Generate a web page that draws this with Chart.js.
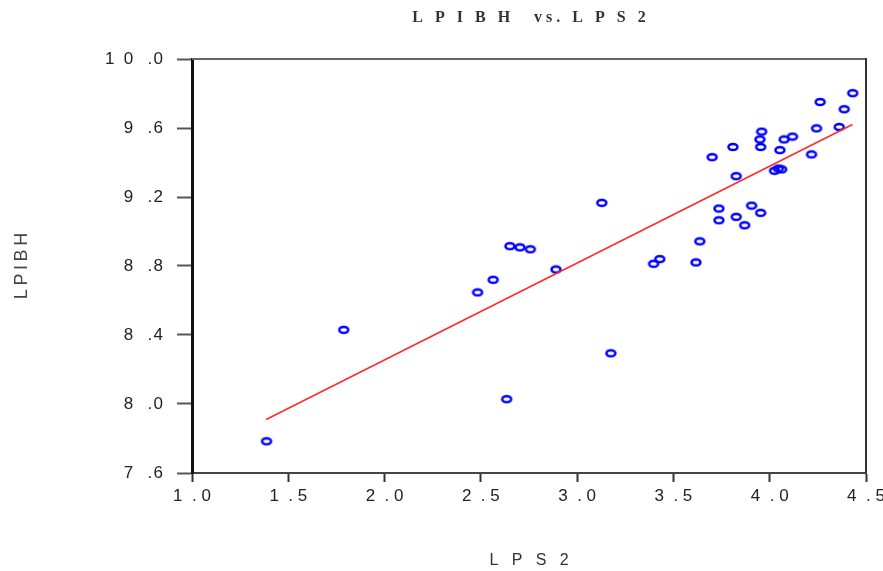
<!DOCTYPE html>
<html>
<head>
<meta charset="utf-8">
<script src="https://cdn.jsdelivr.net/npm/chart.js@4.4.1/dist/chart.umd.min.js"></script>
<style>
  html, body { margin: 0; padding: 0; background: #fff; }
  canvas { display: block; }
</style>
</head>
<body>
<canvas id="scatter" width="883" height="571"></canvas>
<script>
// LPS2 (x) and LPIBH (y)
var lps2 = [1.387, 1.788, 2.483, 2.564, 2.634, 2.651, 2.703, 2.757, 2.89, 3.128,
            3.175, 3.397, 3.429, 3.617, 3.637, 3.701, 3.736, 3.736, 3.809, 3.826,
            3.826, 3.87, 3.906, 3.953, 3.958, 3.949, 3.953, 4.053, 4.025, 4.045,
            4.062, 4.075, 4.118, 4.217, 4.243, 4.262, 4.361, 4.387, 4.431];
var lpibh = [7.784, 8.43, 8.647, 8.72, 8.028, 8.915, 8.908, 8.897, 8.78, 9.166,
             8.294, 8.813, 8.84, 8.821, 8.943, 9.431, 9.133, 9.065, 9.49, 9.321,
             9.085, 9.036, 9.15, 9.108, 9.579, 9.534, 9.49, 9.472, 9.352, 9.365,
             9.36, 9.534, 9.55, 9.447, 9.598, 9.751, 9.606, 9.709, 9.802];

// fitted line end points
var fitX = [1.385, 4.43];
var fitY = [7.91, 9.62];

var xTicks = [1.0, 1.5, 2.0, 2.5, 3.0, 3.5, 4.0, 4.5];
var yTicks = [7.6, 8.0, 8.4, 8.8, 9.2, 9.6, 10.0];

var points = [];
for (var i = 0; i < lps2.length; i++) {
    points.push({x: lps2[i], y: lpibh[i]});
}
var fitLine = [];
for (var j = 0; j < fitX.length; j++) {
    fitLine.push({x: fitX[j], y: fitY[j]});
}

// small hollow ellipse used as the marker
var marker = document.createElement('canvas');
marker.width = 14;
marker.height = 10;
var mctx = marker.getContext('2d');
mctx.strokeStyle = '#0000ff';
mctx.lineWidth = 2.5;
mctx.beginPath();
mctx.ellipse(7, 5, 4.5, 3.0, 0, 0, Math.PI * 2);
mctx.stroke();

function spaced(v, gap, dotGap) {
    var s = Number(v).toFixed(1).split('.');
    return s[0].split('').join('  ') + gap + '.' + dotGap + s[1];
}

// top and right edges of the box
var frame = {
    id: 'frame',
    afterDraw: function (chart) {
        var a = chart.chartArea;
        var ctx = chart.ctx;
        ctx.save();
        ctx.lineWidth = 2;
        ctx.strokeStyle = '#666';
        ctx.beginPath();
        ctx.moveTo(a.left, a.top);
        ctx.lineTo(a.right, a.top);
        ctx.stroke();
        ctx.strokeStyle = '#333';
        ctx.beginPath();
        ctx.moveTo(a.right, a.top - 1);
        ctx.lineTo(a.right, a.bottom);
        ctx.stroke();
        ctx.restore();
    }
};

var ctx = document.getElementById('scatter').getContext('2d');
var chart = new Chart(ctx, {
    type: 'scatter',
    data: {
        datasets: [{
            data: fitLine,
            type: 'line',
            borderColor: '#ff2a2a',
            borderWidth: 1.6,
            pointRadius: 0,
            fill: false,
            order: 1
        }, {
            data: points,
            pointStyle: marker,
            pointRadius: 6,
            order: 2
        }]
    },
    options: {
        responsive: false,
        animation: false,
        layout: {
            padding: {left: 0, right: 17, top: 0, bottom: 0}
        },
        plugins: {
            legend: {display: false},
            tooltip: {enabled: false},
            title: {
                display: true,
                fullSize: false,
                text: 'L\u2002 P\u2002 I\u2002 B\u2002 H\u2003  v s . \u2002L\u2002 P\u2002 S\u2002 2',
                color: '#333',
                font: {family: 'Liberation Serif', size: 16, weight: 'bold'},
                padding: {top: 8, bottom: 31.8}
            }
        },
        scales: {
            x: {
                type: 'linear',
                min: 1.0,
                max: 4.5,
                afterFit: function (s) {
                    s.height = 98;
                    s.paddingLeft = 0;
                    s.paddingRight = 0;
                },
                afterBuildTicks: function (s) {
                    s.ticks = xTicks.map(function (v) { return {value: v}; });
                },
                border: {color: '#444', width: 2},
                grid: {drawOnChartArea: false, drawTicks: true, tickLength: 9, tickWidth: 2, tickColor: '#333'},
                ticks: {
                    color: '#222',
                    font: {family: 'Arial', size: 17},
                    padding: 4,
                    maxRotation: 0,
                    callback: function (v) { return spaced(v, '  ', ' '); }
                },
                title: {
                    display: true,
                    text: 'L   P   S   2',
                    color: '#333',
                    font: {family: 'Arial', size: 16},
                    padding: {top: 0, bottom: 1}
                }
            },
            y: {
                type: 'linear',
                min: 7.6,
                max: 10.0,
                afterFit: function (s) {
                    s.width = 192;
                    s.paddingTop = 0;
                    s.paddingBottom = 0;
                },
                afterBuildTicks: function (s) {
                    s.ticks = yTicks.map(function (v) { return {value: v}; });
                },
                border: {color: '#111', width: 3},
                grid: {drawOnChartArea: false, drawTicks: true, tickLength: 15, tickWidth: 2, tickColor: '#555'},
                ticks: {
                    color: '#222',
                    font: {family: 'Arial', size: 17},
                    padding: 14,
                    callback: function (v) { return spaced(v, '   ', '\u200A'); }
                },
                title: {
                    display: true,
                    text: 'L\u2009P\u2009I\u2009B\u2009H',
                    color: '#444',
                    font: {family: 'Arial', size: 18},
                    padding: {top: 11, bottom: 0}
                }
            }
        }
    },
    plugins: [frame]
});
</script>
</body>
</html>
